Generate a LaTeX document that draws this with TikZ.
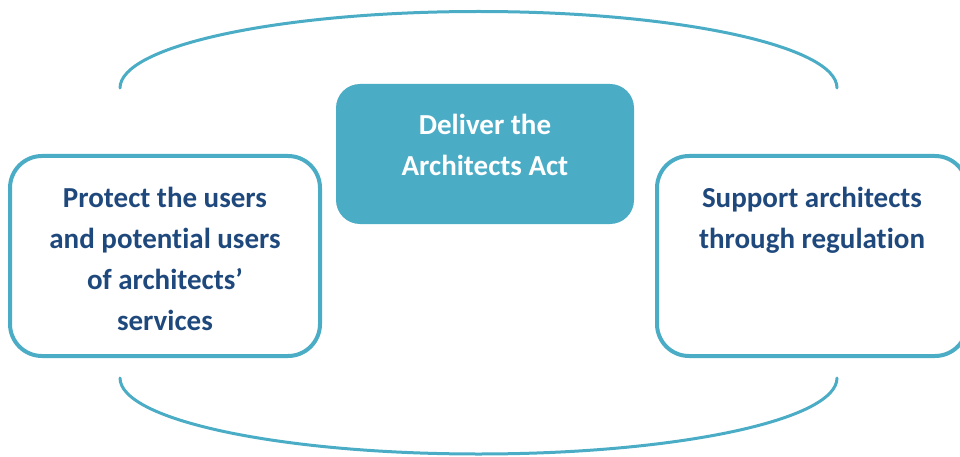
\documentclass[tikz,border=0pt]{standalone}
\usepackage{fontspec}
\setmainfont{Carlito}[Ligatures=NoCommon]
\usetikzlibrary{positioning}
\definecolor{actteal}{RGB}{75,172,198}
\definecolor{goalblue}{RGB}{31,73,125}

\begin{document}
\begin{tikzpicture}[x=1pt,y=-1pt,
    goal node/.style={draw=actteal,line width=4pt,rounded corners=32pt,fill=white,
                      minimum width=310pt,minimum height=200pt,inner sep=0pt,outer sep=0pt},
    act node/.style={fill=actteal,rounded corners=24pt,
                     minimum width=298pt,minimum height=140pt,inner sep=0pt,outer sep=0pt},
    words/.style={align=center,inner sep=0pt,font=\fontsize{29}{41}\selectfont\bfseries},
    ring line/.style={draw=actteal,line width=3pt,line cap=round}]
  \clip (0,0) rectangle (960,457);

  % the two rings round the boxes
  \coordinate (top start) at (120,88);
  \coordinate (low start) at (120,378);
  \draw[ring line] (top start) arc[start angle=180,end angle=0,x radius=358.5pt,y radius=76.5pt];
  \draw[ring line] (low start) arc[start angle=180,end angle=360,x radius=358.5pt,y radius=76pt];

  % boxes
  \node[act node] (act) at (485,154) {};
  \node[goal node] (users) at (165,256) {};
  \node[goal node] (support) at (812,256) {};

  \node[words,text=white,below=30pt of act.north] (act text) {Deliver the\\Architects Act};
  \node[words,text=goalblue,below=30.5pt of users.north] (users text)
    {Protect the users\\and potential users\\of architects’\\services};
  \node[words,text=goalblue,below=30.5pt of support.north] (support text)
    {Support architects\\through regulation};
\end{tikzpicture}
\end{document}
